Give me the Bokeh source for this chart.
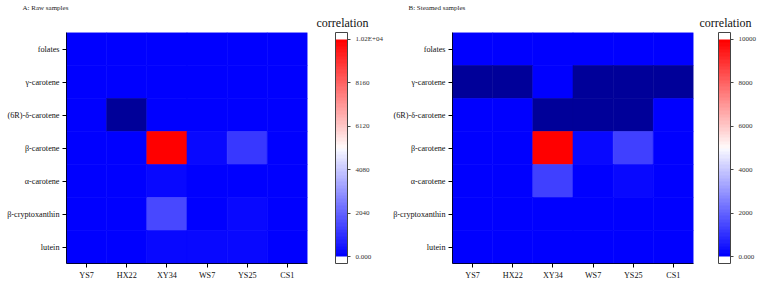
from bokeh.plotting import figure
from bokeh.layouts import row
from bokeh.models import (ColumnDataSource, LinearColorMapper, ColorBar, FixedTicker,
                          Title, FactorRange)
from bokeh.embed import file_html
from bokeh.resources import INLINE

samples = ["YS7", "HX22", "XY34", "WS7", "YS25", "CS1"]
compounds = ["folates", "γ-carotene", "(6R)-δ-carotene", "β-carotene",
             "α-carotene", "β-cryptoxanthin", "lutein"]

# rows follow `compounds`, columns follow `samples`; negative = below scale (dark)
raw_values = [
    [0, 0, 0, 0, 0, 0],
    [0, 0, 0, 0, 0, 0],
    [0, -500, 0, 0, 0, 0],
    [0, 0, 10100, 250, 1200, 0],
    [0, 0, 250, 0, 0, 0],
    [0, 0, 1450, 0, 200, 0],
    [0, 0, 200, 200, 200, 0],
]
steamed_values = [
    [0, 0, 0, 0, 0, 0],
    [-500, -500, 0, -500, -500, -500],
    [0, 0, -500, -500, -500, 0],
    [0, 0, 9950, 250, 1350, 0],
    [0, 0, 1300, 0, 200, 0],
    [0, 0, 0, 0, 0, 0],
    [0, 0, 0, 0, 0, 0],
]
raw_ticks = [0, 2040, 4080, 6120, 8160, 10200]
raw_tick_labels = ["0.000", "2040", "4080", "6120", "8160", "1.02E+04"]
steamed_ticks = [0, 2000, 4000, 6000, 8000, 10000]
steamed_tick_labels = ["0.000", "2000", "4000", "6000", "8000", "10000"]

FONT = "Liberation Serif"
N = 32


def make_palette():
    pal = []
    for i in range(N):
        f = i / (N - 1) * 0.97
        c = int(round(255 * f))
        pal.append("#%02x%02xff" % (c, c))
    for i in range(N):
        f = (N - 1 - i) / (N - 1) * 0.97
        c = int(round(255 * f))
        pal.append("#ff%02x%02x" % (c, c))
    return ["#ffffff"] * 2 + pal + ["#ffffff"] * 2


def panel(title, values, vmax, ticks, tick_labels, width, border_right, cb_offset,
          corr_offset):
    xs, ys, vs = [], [], []
    for r, comp in enumerate(compounds):
        for c, s in enumerate(samples):
            xs.append(s)
            ys.append(comp)
            vs.append(values[r][c])
    src = ColumnDataSource(dict(x=xs, y=ys, v=vs))
    step = vmax / (2 * N)
    mapper = LinearColorMapper(palette=make_palette(), low=-2 * step,
                               high=vmax + 2 * step,
                               low_color="#000099", high_color="#ff0000")
    p = figure(width=width, height=284, x_range=FactorRange(*samples),
               y_range=FactorRange(*compounds[::-1]), output_backend="svg",
               toolbar_location=None, min_border_left=66, min_border_top=32,
               min_border_bottom=21, min_border_right=border_right)
    p.rect(x="x", y="y", width=1, height=1, source=src,
           fill_color={"field": "v", "transform": mapper},
           line_color={"field": "v", "transform": mapper}, line_width=0.6)
    p.grid.visible = False
    p.outline_line_color = None
    p.x_range.range_padding = 0
    p.y_range.range_padding = 0
    for ax in (p.xaxis[0], p.yaxis[0]):
        ax.major_label_text_font = FONT
        ax.major_label_text_font_size = "8.2px"
        ax.major_label_text_color = "#111111"
        ax.axis_line_color = "#000033"
        ax.major_tick_line_color = "#000000"
        ax.major_tick_out = 4
        ax.major_tick_in = 0
        ax.minor_tick_line_color = None
        ax.major_label_standoff = 3
    cb = ColorBar(color_mapper=mapper, width=12, height=231,
                  ticker=FixedTicker(ticks=ticks),
                  major_label_overrides={t: l for t, l in zip(ticks, tick_labels)},
                  major_label_text_font=FONT, major_label_text_font_size="7px",
                  major_tick_line_color="#444444", major_tick_out=3, major_tick_in=0,
                  bar_line_color="#444444", padding=0, margin=0,
                  location=(cb_offset, 0), background_fill_alpha=0,
                  border_line_color=None)
    cb.major_label_text_color = "#333333"
    p.add_layout(cb, "right")
    p.add_layout(Title(text="correlation", align="right", offset=corr_offset,
                       text_font=FONT, text_font_size="12px", text_font_style="normal",
                       text_color="#111111", standoff=5), "above")
    p.add_layout(Title(text=title, align="left", offset=-44,
                       text_font=FONT, text_font_size="7px", text_font_style="normal",
                       text_color="#222222", standoff=0), "above")
    return p, cb


p1, cb1 = panel("A: Raw samples", raw_values, 10200, raw_ticks, raw_tick_labels,
                386, 79, 28, -61)
p2, cb2 = panel("B: Steamed samples", steamed_values, 10000, steamed_ticks,
                steamed_tick_labels, 376, 69, 25, -58)

layout = row(p1, p2)
open("out.html", "w").write(file_html(layout, INLINE))
